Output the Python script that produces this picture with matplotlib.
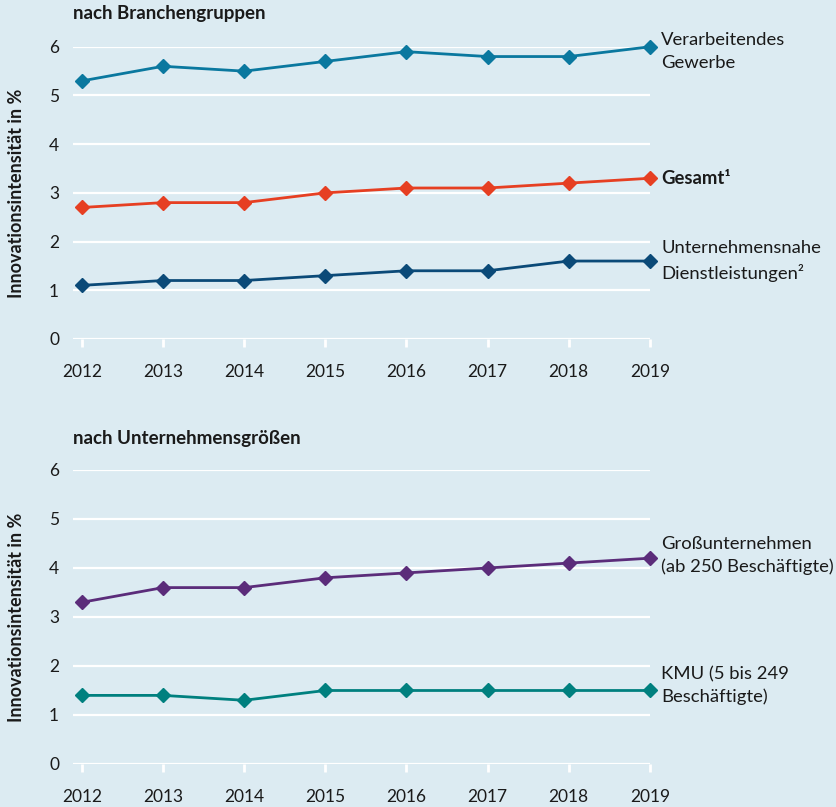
import matplotlib.pyplot as plt

plt.rcParams['font.family'] = ['Lato', 'DejaVu Sans']

years = [2012, 2013, 2014, 2015, 2016, 2017, 2018, 2019]

# nach Branchengruppen
verarbeitend = [5.3, 5.6, 5.5, 5.7, 5.9, 5.8, 5.8, 6.0]
gesamt = [2.7, 2.8, 2.8, 3.0, 3.1, 3.1, 3.2, 3.3]
dienstleistungen = [1.1, 1.2, 1.2, 1.3, 1.4, 1.4, 1.6, 1.6]

# nach Unternehmensgrößen
gross = [3.3, 3.6, 3.6, 3.8, 3.9, 4.0, 4.1, 4.2]
kmu = [1.4, 1.4, 1.3, 1.5, 1.5, 1.5, 1.5, 1.5]

bg = '#dcebf2'
txt = '#1a1a1a'

fig = plt.figure(figsize=(8.36, 8.07), dpi=100, facecolor=bg)
ax1 = fig.add_axes([0.0873, 0.580, 0.690, 0.362])
ax2 = fig.add_axes([0.0873, 0.0533, 0.690, 0.3643])


def style(ax):
    ax.set_facecolor(bg)
    ax.set_xlim(2011.89, 2019)
    ax.set_ylim(0, 6)
    ax.set_yticks(range(7))
    ax.set_xticks(years)
    for s in ax.spines.values():
        s.set_visible(False)
    ax.grid(axis='y', color='white', lw=1.6)
    ax.set_axisbelow(True)
    ax.tick_params(axis='y', length=0, pad=10, labelsize=12.5, labelcolor=txt)
    ax.tick_params(axis='x', length=6, width=2, color='white', pad=12,
                   labelsize=12.5, labelcolor=txt)
    ax.set_ylabel('Innovationsintensität in %', fontsize=13, fontweight='bold',
                  color=txt, labelpad=17)


def line(ax, vals, color, label, ly, bold=False):
    ax.plot(years, vals, color=color, lw=2, marker='D', ms=7, clip_on=False, zorder=3)
    ax.text(2019.14, ly, label, color=txt, fontsize=13.3, va='center', ha='left',
            fontweight='bold' if bold else 'normal', linespacing=1.5)


style(ax1)
style(ax2)

line(ax1, verarbeitend, '#0a789f', 'Verarbeitendes\nGewerbe', 5.9)
line(ax1, gesamt, '#e63f22', 'Gesamt¹', 3.3, bold=True)
line(ax1, dienstleistungen, '#0b4a78', 'Unternehmensnahe\nDienstleistungen²', 1.6)

line(ax2, gross, '#5b2c7a', 'Großunternehmen\n(ab 250 Beschäftigte)', 4.25)
line(ax2, kmu, '#00807f', 'KMU (5 bis 249\nBeschäftigte)', 1.6)

fig.text(0.0873, 0.983, 'nach Branchengruppen', fontsize=13.5, fontweight='bold',
         color=txt, va='center')
fig.text(0.0873, 0.457, 'nach Unternehmensgrößen', fontsize=13.5, fontweight='bold',
         color=txt, va='center')

fig.savefig('out.png', dpi=100, facecolor=bg)
